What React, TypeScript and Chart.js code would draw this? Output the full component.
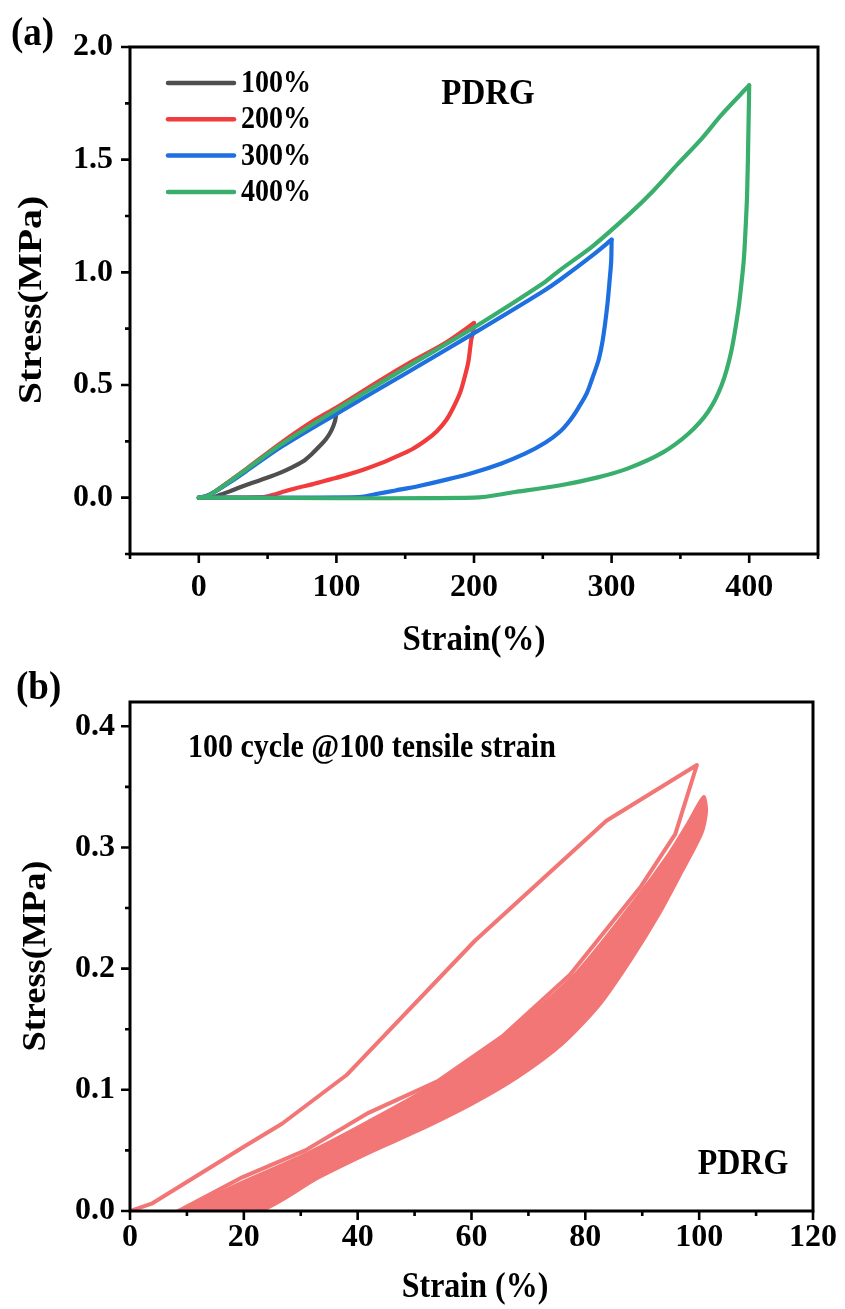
import React, { useEffect, useRef } from "react";
import { Chart, registerables } from "chart.js";

Chart.register(...registerables);

const FONT = '"Liberation Serif", "Times New Roman", serif';

// ---------- Panel (a) data ----------
const seriesLabelsA = ["100%", "200%", "300%", "400%"];
const seriesColorsA = ["#4F4F4F", "#F03C3C", "#1E6FE0", "#3AAE6C"];

const strain100 = [0, 5, 10, 22, 35, 60, 83, 100, 99, 96.5, 92.5, 88, 82, 75.6, 67, 59, 49, 39, 30, 22.5, 16, 11, 0];
const stress100 = [0, 0.006, 0.02, 0.07, 0.125, 0.235, 0.33, 0.378, 0.34, 0.3, 0.26, 0.23, 0.193, 0.16, 0.132, 0.11, 0.087, 0.066, 0.046, 0.028, 0.014, 0.003, 0];

const strain200 = [0, 5, 10, 22, 35, 59, 83, 100, 131.6, 155.6, 180, 200, 199.5, 198, 195.8, 193, 189.8, 185, 180, 173, 165.5, 155, 143.7, 132, 119.5, 107, 95, 83, 71, 62, 54, 47, 0];
const stress200 = [0, 0.006, 0.02, 0.072, 0.13, 0.24, 0.34, 0.4, 0.52, 0.607, 0.69, 0.775, 0.74, 0.7, 0.6, 0.53, 0.464, 0.4, 0.346, 0.295, 0.257, 0.215, 0.183, 0.152, 0.124, 0.1, 0.08, 0.06, 0.043, 0.027, 0.013, 0.003, 0];

const strain300 = [0, 5, 10, 22, 35, 60, 100, 150, 200, 250, 262.5, 287, 300, 299.7, 298.5, 297, 295, 293, 290.5, 286, 282, 276, 270, 262, 252, 237, 220, 200, 180, 160, 143, 128, 117, 0];
const stress300 = [0, 0.005, 0.02, 0.066, 0.12, 0.226, 0.372, 0.55, 0.73, 0.915, 0.967, 1.08, 1.145, 1.05, 0.96, 0.86, 0.76, 0.68, 0.61, 0.53, 0.464, 0.4, 0.345, 0.29, 0.245, 0.195, 0.152, 0.112, 0.08, 0.052, 0.032, 0.015, 0.003, 0];

const strain400 = [0, 5, 10, 22, 35, 60, 100, 150, 200, 250, 262.5, 287, 314, 330, 348, 365, 380, 400, 399.5, 398.5, 397, 396, 394, 392, 387, 380, 370, 356, 337, 312, 290, 263, 230, 200, 0];
const stress400 = [0, 0.005, 0.02, 0.07, 0.127, 0.237, 0.39, 0.575, 0.755, 0.95, 1.01, 1.12, 1.265, 1.36, 1.48, 1.59, 1.7, 1.83, 1.65, 1.35, 1.15, 1.05, 0.93, 0.83, 0.65, 0.5, 0.38, 0.285, 0.2, 0.13, 0.09, 0.055, 0.025, 0, 0];

const xLabelValuesA = [0, 100, 200, 300, 400];
const xMinorA = [-50, 50, 150, 250, 350, 450];
const yLabelValuesA = [0, 0.5, 1.0, 1.5, 2.0];
const yMinorA = [-0.25, 0.25, 0.75, 1.25, 1.75];

// ---------- Panel (b) data ----------
const colorB = "#F27676";
const cycle1Strain = [0, 3.8, 20, 26.7, 38, 60.6, 83.7, 99.6, 95.8, 89.8, 77.3, 65.4, 54, 41.9, 30.8, 19.8, 10.5, 8.5];
const cycle1Stress = [0, 0.006, 0.053, 0.072, 0.112, 0.223, 0.322, 0.368, 0.311, 0.268, 0.195, 0.144, 0.107, 0.081, 0.05, 0.028, 0.005, 0];

// envelope of cycles 2-100 (loading edge, then unloading edge)
const bandStrain = [8.5, 10.5, 19.8, 30.8, 41.9, 54, 66, 77.9, 88.6, 94.7, 98, 100.8, 101.3, 100.5, 97, 93, 88, 82.5, 76, 68, 60, 50.6, 43, 33, 22.8, 8.5];
const bandStress = [0, 0.004, 0.024, 0.047, 0.074, 0.106, 0.146, 0.194, 0.256, 0.295, 0.32, 0.342, 0.33, 0.312, 0.28, 0.245, 0.207, 0.17, 0.138, 0.11, 0.088, 0.066, 0.05, 0.027, 0, 0];

const xLabelValuesB = [0, 20, 40, 60, 80, 100, 120];
const xMinorB = [10, 30, 50, 70, 90, 110];
const yLabelValuesB = [0, 0.1, 0.2, 0.3, 0.4];
const yMinorB = [0.05, 0.15, 0.25, 0.35];

// ---------- helpers ----------
function pts(xs: number[], ys: number[]) {
  return xs.map((x, i) => ({ x, y: ys[i] }));
}

function lineDs(label: string, data: any[], color: string, order: number, extra: any = {}) {
  return {
    label,
    data,
    borderColor: color,
    backgroundColor: color,
    borderWidth: 4.2,
    pointRadius: 0,
    tension: 0,
    fill: false,
    order,
    borderJoinStyle: "round",
    borderCapStyle: "round",
    ...extra,
  };
}

// a hysteresis loop drawn as loading branch + unloading branch (sharp corner at the peak)
function loopDatasets(label: string, xs: number[], ys: number[], color: string, order: number) {
  let peak = 0;
  xs.forEach((x, i) => {
    if (x > xs[peak]) peak = i;
  });
  const all = pts(xs, ys);
  return [
    lineDs(label + " loading", all.slice(0, peak + 1), color, order, { tension: 0.3 }),
    lineDs(label + " unloading", all.slice(peak), color, order, { tension: 0.3 }),
  ];
}

function font(size: number) {
  return `bold ${size}px ${FONT}`;
}

type TextSpec = { text: string; x: number; y: number; size: number; align?: CanvasTextAlign; rotate?: boolean; stretch?: number };

function decorPlugin(spec: {
  xMajor: number[];
  xMinor: number[];
  yMajor: number[];
  yMinor: number[];
  texts: TextSpec[];
  legend?: { labels: string[]; colors: string[]; x1: number; x2: number; tx: number; y0: number; dy: number; size: number };
}) {
  return {
    id: "decor",
    afterDatasetsDraw(chart: any) {
      const { ctx, chartArea: a, scales } = chart;
      const xs = scales.x;
      const ys = scales.y;
      ctx.save();
      ctx.strokeStyle = "#000";
      ctx.lineCap = "butt";
      ctx.lineWidth = 2.6;
      ctx.beginPath();
      for (const v of spec.xMajor) {
        const p = xs.getPixelForValue(v);
        ctx.moveTo(p, a.bottom);
        ctx.lineTo(p, a.bottom + 9);
      }
      for (const v of spec.xMinor) {
        const p = xs.getPixelForValue(v);
        ctx.moveTo(p, a.bottom);
        ctx.lineTo(p, a.bottom + 5);
      }
      for (const v of spec.yMajor) {
        const p = ys.getPixelForValue(v);
        ctx.moveTo(a.left, p);
        ctx.lineTo(a.left - 9, p);
      }
      for (const v of spec.yMinor) {
        const p = ys.getPixelForValue(v);
        ctx.moveTo(a.left, p);
        ctx.lineTo(a.left - 5, p);
      }
      ctx.stroke();
      ctx.lineWidth = 3;
      ctx.strokeRect(a.left, a.top, a.right - a.left, a.bottom - a.top);
      ctx.restore();
    },
    afterDraw(chart: any) {
      const ctx = chart.ctx;
      ctx.save();
      ctx.fillStyle = "#000";
      ctx.textBaseline = "middle";
      for (const t of spec.texts) {
        ctx.font = font(t.size);
        ctx.textAlign = t.align || "center";
        const s = t.stretch || 1;
        ctx.save();
        ctx.translate(t.x, t.y);
        if (t.rotate) {
          ctx.rotate(-Math.PI / 2);
          ctx.scale(s, 1);
        } else {
          ctx.scale(1, s);
        }
        ctx.fillText(t.text, 0, 0);
        ctx.restore();
      }
      const lg = spec.legend;
      if (lg) {
        lg.labels.forEach((lab, i) => {
          const y = lg.y0 + i * lg.dy;
          ctx.strokeStyle = lg.colors[i];
          ctx.lineWidth = 4.5;
          ctx.lineCap = "round";
          ctx.beginPath();
          ctx.moveTo(lg.x1, y);
          ctx.lineTo(lg.x2, y);
          ctx.stroke();
          ctx.fillStyle = "#000";
          ctx.font = font(lg.size);
          ctx.textAlign = "left";
          ctx.save();
          ctx.translate(lg.tx, y + 1);
          ctx.scale(1, 1.1);
          ctx.fillText(lab, 0, 0);
          ctx.restore();
        });
      }
      ctx.restore();
    },
  };
}

function axisOpts(min: number, max: number, labels: number[], fmt: (v: number) => string, padding: number, fit: (s: any) => void) {
  return {
    type: "linear",
    min,
    max,
    grid: { display: false, drawTicks: false, tickLength: 0 },
    border: { display: false },
    ticks: {
      font: { family: FONT, size: 32, weight: "bold" },
      color: "#000",
      padding,
      autoSkip: false,
      maxRotation: 0,
      minRotation: 0,
      callback: (v: any) => fmt(Number(v)),
    },
    afterBuildTicks: (s: any) => {
      s.ticks = labels.map((value) => ({ value }));
    },
    afterFit: fit,
  };
}

function configA(): any {
  return {
    type: "line",
    data: {
      datasets: [
        ...loopDatasets(seriesLabelsA[0], strain100, stress100, seriesColorsA[0], 4),
        ...loopDatasets(seriesLabelsA[1], strain200, stress200, seriesColorsA[1], 3),
        ...loopDatasets(seriesLabelsA[2], strain300, stress300, seriesColorsA[2], 2),
        ...loopDatasets(seriesLabelsA[3], strain400, stress400, seriesColorsA[3], 1),
      ],
    },
    options: {
      responsive: false,
      animation: false,
      devicePixelRatio: 1,
      layout: { padding: { left: 0, right: 27, top: 47, bottom: 0 } },
      plugins: { legend: { display: false }, tooltip: { enabled: false } },
      scales: {
        x: axisOpts(-50, 450, xLabelValuesA, (v) => String(Math.round(v)), 15, (s: any) => { s.height = 106; }),
        y: axisOpts(-0.25, 2.0, yLabelValuesA, (v) => v.toFixed(1), 17, (s: any) => { s.width = 130; }),
      },
    },
    plugins: [
      decorPlugin({
        xMajor: xLabelValuesA,
        xMinor: xMinorA,
        yMajor: yLabelValuesA,
        yMinor: yMinorA,
        texts: [
          { text: "(a)", x: 11, y: 34, size: 37, align: "left", stretch: 1.1 },
          { text: "PDRG", x: 488, y: 95, size: 33, stretch: 1.1 },
          { text: "Strain(%)", x: 474, y: 641, size: 33, stretch: 1.1 },
          { text: "Stress(MPa)", x: 32, y: 300, size: 33, rotate: true, stretch: 1.2 },
        ],
        legend: { labels: seriesLabelsA, colors: seriesColorsA, x1: 168, x2: 234, tx: 241, y0: 83, dy: 36.3, size: 28 },
      }),
    ],
  };
}

function configB(): any {
  return {
    type: "line",
    data: {
      datasets: [
        lineDs("Cycles 2-100", pts(bandStrain, bandStress), colorB, 2, { fill: "shape", backgroundColor: colorB, borderWidth: 3, tension: 0.25 }),
        lineDs("Cycle 1", pts(cycle1Strain, cycle1Stress), colorB, 1, { borderWidth: 4 }),
      ],
    },
    options: {
      responsive: false,
      animation: false,
      devicePixelRatio: 1,
      layout: { padding: { left: 0, right: 27, top: 42, bottom: 0 } },
      plugins: { legend: { display: false }, tooltip: { enabled: false } },
      scales: {
        x: axisOpts(0, 120, xLabelValuesB, (v) => String(Math.round(v)), 8, (s: any) => { s.height = 98; }),
        y: axisOpts(0, 0.42, yLabelValuesB, (v) => v.toFixed(1), 15, (s: any) => { s.width = 130; }),
      },
    },
    plugins: [
      decorPlugin({
        xMajor: xLabelValuesB,
        xMinor: xMinorB,
        yMajor: yLabelValuesB,
        yMinor: yMinorB,
        texts: [
          { text: "(b)", x: 16, y: 28, size: 37, align: "left", stretch: 1.1 },
          { text: "100 cycle @100 tensile strain", x: 188, y: 88, size: 30, align: "left", stretch: 1.1 },
          { text: "PDRG", x: 743, y: 505, size: 32, stretch: 1.1 },
          { text: "Strain (%)", x: 475, y: 628, size: 32, stretch: 1.1 },
          { text: "Stress(MPa)", x: 36, y: 296, size: 33, rotate: true, stretch: 1.1 },
        ],
      }),
    ],
  };
}

export default function App() {
  const refA = useRef<HTMLCanvasElement>(null);
  const refB = useRef<HTMLCanvasElement>(null);
  useEffect(() => {
    const ca = new Chart(refA.current as HTMLCanvasElement, configA());
    const cb = new Chart(refB.current as HTMLCanvasElement, configB());
    return () => {
      ca.destroy();
      cb.destroy();
    };
  }, []);
  return (
    <div style={{ position: "absolute", left: 0, top: 0, width: 845, height: 1309, background: "#fff" }}>
      <canvas ref={refA} width={845} height={660} style={{ position: "absolute", left: 0, top: 0 }} />
      <canvas ref={refB} width={845} height={649} style={{ position: "absolute", left: 0, top: 660 }} />
    </div>
  );
}
